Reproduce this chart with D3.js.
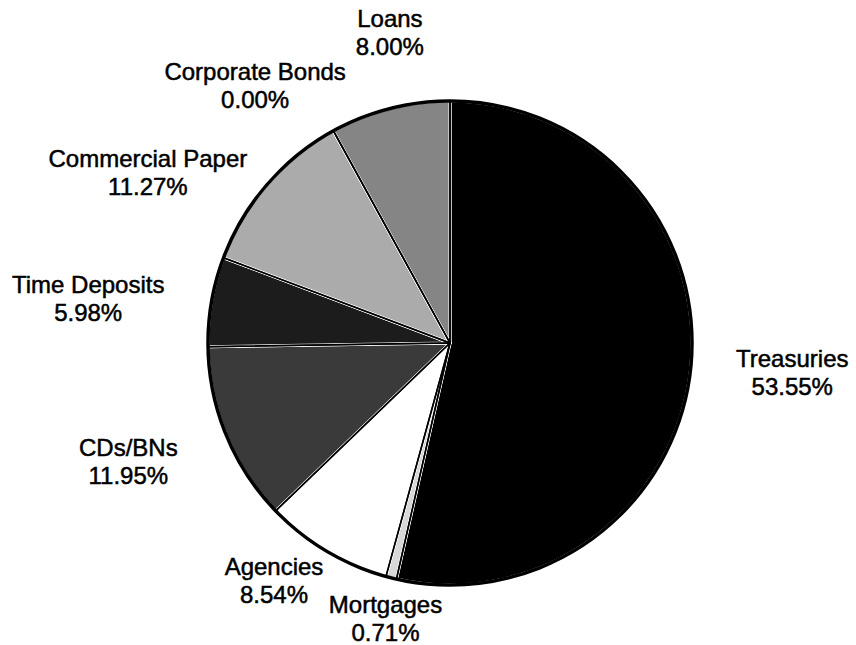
<!DOCTYPE html>
<html>
<head>
<meta charset="utf-8">
<script src="https://cdn.jsdelivr.net/npm/d3@7"></script>
<style>
  html, body { margin: 0; padding: 0; background: #fff; }
  svg { display: block; }
  text { font-family: Arial, "Liberation Sans", sans-serif; font-size: 24px; fill: #000; stroke: #000; stroke-width: 0.5px; }
</style>
</head>
<body>
<svg id="chart" width="856" height="645"></svg>
<script>
// ---- data ----
const categories = ["Treasuries", "Mortgages", "Agencies", "CDs/BNs", "Time Deposits", "Commercial Paper", "Corporate Bonds", "Loans"];
const values = [53.55, 0.71, 8.54, 11.95, 5.98, 11.27, 0.00, 8.00];

// ---- styling / layout (not data) ----
const fills = ["#000000", "#d8d8d8", "#ffffff", "#3a3a3a", "#1c1c1c", "#ababab", "#707070", "#858585"];
const labelNudge = [[62, -7], [4, -4], [-32, -10], [-61, 5], [-84, -2], [-89, 9], [-59, -16], [10, -43]];

const W = 856, H = 645, cx = 450, cy = 343, R = 242, labelR = 282, lineGap = 28;
const svg = d3.select("#chart");
const g = svg.append("g").attr("transform", `translate(${cx},${cy})`);

const pie = d3.pie().sort(null).value(d => d.value);
const arcs = pie(categories.map((c, i) => ({ name: c, value: values[i], i })));
const arc = d3.arc().innerRadius(0).outerRadius(R);
const labelArc = d3.arc().innerRadius(labelR).outerRadius(labelR);
const fmt = v => d3.format(".2f")(v) + "%";

// fills with white separators
g.selectAll("path.slice").data(arcs).join("path")
  .attr("class", "slice")
  .attr("d", arc)
  .attr("fill", d => fills[d.data.i])
  .attr("stroke", "#fff")
  .attr("stroke-width", 3)
  .attr("stroke-linejoin", "round");

// black edges
g.selectAll("path.edge").data(arcs).join("path")
  .attr("class", "edge")
  .attr("d", arc)
  .attr("fill", "none")
  .attr("stroke", "#000")
  .attr("stroke-width", 1.5)
  .attr("stroke-linejoin", "round");

// outer rim
g.append("circle").attr("r", R).attr("fill", "none").attr("stroke", "#000").attr("stroke-width", 3.5);

// labels
const lbl = g.selectAll("text.lbl").data(arcs).join("text")
  .attr("class", "lbl")
  .attr("text-anchor", "middle")
  .attr("transform", d => {
    const [x, y] = labelArc.centroid(d);
    const n = labelNudge[d.data.i];
    return `translate(${x + n[0]},${y + n[1]})`;
  });
lbl.append("tspan").attr("x", 0).attr("y", 0).text(d => d.data.name);
lbl.append("tspan").attr("x", 0).attr("y", lineGap).text(d => fmt(d.data.value));
</script>
</body>
</html>
